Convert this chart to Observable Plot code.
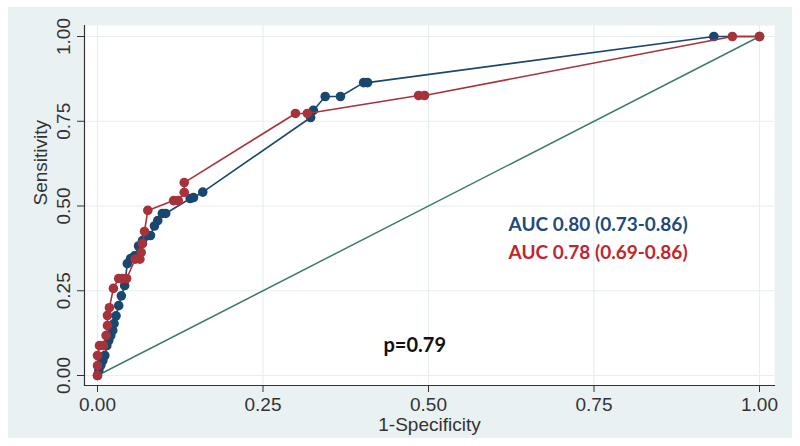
<!DOCTYPE html>
<html><head><meta charset="utf-8">
<script src="https://cdn.jsdelivr.net/npm/d3@7"></script>
<script src="https://cdn.jsdelivr.net/npm/@observablehq/plot@0.6"></script>
<style>
body{margin:0;background:#fff;}
#chart{position:absolute;left:8px;top:7px;}
</style></head><body><div id="chart"></div>
<script>
// Series 1 (navy)
const blueFpr  = [0, 0.002, 0.005, 0.008, 0.011, 0.014, 0.017, 0.020, 0.023, 0.025, 0.028, 0.032, 0.036, 0.041, 0.045, 0.050, 0.056, 0.062, 0.068, 0.074, 0.080, 0.086, 0.091, 0.098, 0.103, 0.140, 0.145, 0.159, 0.322, 0.326, 0.344, 0.367, 0.402, 0.408, 0.931, 1];
const blueSens = [0, 0.015, 0.030, 0.044, 0.059, 0.088, 0.103, 0.118, 0.133, 0.153, 0.176, 0.206, 0.235, 0.265, 0.330, 0.345, 0.353, 0.382, 0.398, 0.412, 0.413, 0.441, 0.457, 0.478, 0.478, 0.522, 0.525, 0.541, 0.761, 0.782, 0.823, 0.823, 0.864, 0.864, 1, 1];
// Series 2 (maroon)
const redFpr  = [0, 0, 0, 0.003, 0.009, 0.013, 0.015, 0.015, 0.018, 0.024, 0.032, 0.038, 0.044, 0.057, 0.064, 0.066, 0.068, 0.071, 0.076, 0.115, 0.122, 0.131, 0.131, 0.299, 0.317, 0.485, 0.494, 0.959, 1];
const redSens = [0, 0.029, 0.059, 0.088, 0.088, 0.118, 0.147, 0.177, 0.200, 0.257, 0.286, 0.286, 0.286, 0.343, 0.343, 0.363, 0.389, 0.425, 0.487, 0.516, 0.516, 0.540, 0.569, 0.773, 0.773, 0.826, 0.826, 1, 1];
// Reference line
const refLine = [0, 1];
const tickValues = [0, 0.25, 0.5, 0.75, 1];
const tickLabels = ["0.00", "0.25", "0.50", "0.75", "1.00"];
const xTitle = "1-Specificity";
const yTitle = "Sensitivity";
const aucLabels = ["AUC 0.80 (0.73-0.86)", "AUC 0.78 (0.69-0.86)"];
const pLabel = "p=0.79";

const blue = blueFpr.map((x, i) => ({x, y: blueSens[i]}));
const red = redFpr.map((x, i) => ({x, y: redSens[i]}));

const navy = "#1a476f", maroon = "#a8323a", green = "#3b7d66";
const fmt = d => tickLabels[tickValues.indexOf(d)];
const axisFont = "'Liberation Sans', Arial, sans-serif";
const annFont = "Lato, 'Open Sans', sans-serif";

const chart = Plot.plot({
  width: 784, height: 431,
  marginLeft: 76, marginRight: 18, marginTop: 18, marginBottom: 53,
  style: {background: "#eaf1f3", fontFamily: axisFont, color: "#333"},
  x: {domain: [0, 1], insetLeft: 13, insetRight: 15},
  y: {domain: [0, 1], insetTop: 11, insetBottom: 10},
  marks: [
    Plot.frame({fill: "white", stroke: "none"}),
    Plot.gridX(tickValues, {stroke: "#e6eef1", strokeOpacity: 1, strokeWidth: 1.2}),
    Plot.gridY(tickValues, {stroke: "#e6eef1", strokeOpacity: 1, strokeWidth: 1.2}),
    Plot.frame({anchor: "left", stroke: "#333", strokeWidth: 1.2}),
    Plot.frame({anchor: "bottom", stroke: "#333", strokeWidth: 1.2}),
    Plot.axisX({ticks: tickValues, tickFormat: fmt, tickSize: 7, tickPadding: 5, fontSize: 19, label: null, stroke: "#333"}),
    Plot.axisY({ticks: tickValues, tickFormat: fmt, tickSize: 7, tickPadding: 8, tickRotate: -90, fontSize: 19, label: null, stroke: "#333"}),
    Plot.text([xTitle], {frameAnchor: "bottom", dy: 45, fontSize: 19, fill: "#333"}),
    Plot.text([yTitle], {frameAnchor: "left", dx: -44, rotate: -90, fontSize: 19, fill: "#333"}),
    Plot.line(refLine, {x: d => d, y: d => d, stroke: green, strokeWidth: 1.5}),
    Plot.line(blue, {x: "x", y: "y", stroke: navy, strokeWidth: 1.6}),
    Plot.dot(blue, {x: "x", y: "y", fill: navy, r: 4.8}),
    Plot.line(red, {x: "x", y: "y", stroke: maroon, strokeWidth: 1.6}),
    Plot.dot(red, {x: "x", y: "y", fill: maroon, r: 4.8}),
    Plot.text([aucLabels[0]], {x: 0.621, y: 0.445, textAnchor: "start", fill: "#1f4a7c", fontSize: 19, fontWeight: 700, fontFamily: annFont}),
    Plot.text([aucLabels[1]], {x: 0.621, y: 0.363, textAnchor: "start", fill: "#c0262d", fontSize: 19, fontWeight: 700, fontFamily: annFont}),
    Plot.text([pLabel], {x: 0.432, y: 0.088, textAnchor: "start", fill: "#111", fontSize: 20, fontWeight: 700, fontFamily: annFont})
  ]
});
document.getElementById("chart").appendChild(chart);
</script></body></html>
